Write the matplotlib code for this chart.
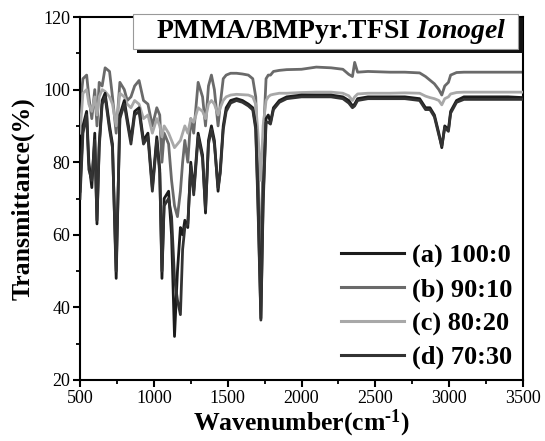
import matplotlib
matplotlib.use("Agg")
import matplotlib.pyplot as plt
from matplotlib.patches import Rectangle
from matplotlib.ticker import MultipleLocator

# Wavenumber grid (cm-1)
WAVENUMBER = [500, 520, 545, 560, 580, 600, 615, 630, 650, 670,
              700, 720, 745, 770, 800, 820, 845, 870, 900, 930,
              960, 990, 1020, 1040, 1055, 1070, 1100, 1120, 1140, 1160,
              1180, 1195, 1210, 1230, 1250, 1270, 1300, 1330, 1350, 1370,
              1390, 1410, 1435, 1450, 1470, 1490, 1520, 1560, 1600, 1640,
              1670, 1690, 1705, 1725, 1740, 1760, 1775, 1790, 1810, 1850,
              1900, 2000, 2100, 2200, 2280, 2320, 2345, 2360, 2380, 2450,
              2600, 2700, 2800, 2840, 2870, 2900, 2930, 2950, 2970, 2995,
              3010, 3050, 3100, 3200, 3300, 3400, 3500]

# (a) 100:0
T_A = [72, 90, 94, 80, 73, 88, 63, 85, 97, 99,
       90, 85, 48, 93, 97, 92, 86, 94, 95, 86,
       88, 73, 87, 78, 48, 70, 72, 60, 32, 50,
       62, 60, 64, 62, 80, 72, 88, 82, 66, 86,
       90, 86, 72, 78, 90, 95, 97, 97.5, 97, 96,
       95, 90, 70, 37, 70, 92, 93, 91, 95, 97,
       98, 98.5, 98.5, 98.5, 98, 97, 95.5, 96, 97.5, 98,
       98, 98, 97.5, 95, 95, 93, 88, 84, 90, 89,
       94, 97, 98, 98, 98, 98, 97.8]

# (b) 90:10
T_B = [95, 103, 104, 98, 92, 100, 90, 102, 101, 106,
       105, 98, 88, 102, 100, 97, 98, 101, 102.5, 97,
       96, 90, 95, 93, 80, 88, 85, 75, 68, 65,
       72, 80, 86, 80, 92, 88, 102, 98, 90, 101,
       104, 100, 90, 96, 103, 104, 104.5, 104.5, 104.3, 104,
       103, 98, 80, 45, 85, 103, 104, 104, 105, 105.3,
       105.5, 105.6, 106.2, 106, 105.6, 104.2, 103.6, 107.5, 104.8, 105,
       104.8, 104.8, 104.6, 103.6, 102.6, 101.6, 100, 98.5, 101, 102,
       104, 104.7, 104.8, 104.8, 104.8, 104.8, 104.8]

# (c) 80:20
T_C = [88, 99, 100, 96, 94, 98, 93, 98, 100, 99.5,
       98, 96, 90, 99, 98, 96, 95, 97, 96, 92,
       93, 88, 92, 90, 87, 90, 88, 86, 84, 85,
       86, 88, 90, 88, 92, 91, 95, 94, 92, 96,
       97, 96, 93, 95, 97, 98, 98.5, 98.7, 98.6, 98.5,
       98, 96, 88, 75, 90, 97, 98, 98.5, 98.7, 99,
       99, 99.2, 99.3, 99.3, 99, 98.3, 97, 98, 98.8, 99,
       99, 99.1, 99, 98.2, 97.8, 97.5, 97, 95.8, 97.5, 98,
       98.8, 99.2, 99.3, 99.3, 99.3, 99.3, 99.3]

# (d) 70:30
T_D = [70, 88, 93, 78, 75, 86, 64, 84, 96, 98,
       89, 84, 50, 92, 96, 91, 85, 93, 94, 85,
       87, 72, 86, 77, 50, 68, 70, 65, 48, 42,
       38, 56, 62, 63, 79, 71, 87, 81, 67, 85,
       89, 85, 73, 77, 89, 94, 96.3, 97, 96.5, 95.5,
       94.4, 89, 68, 36.5, 68, 91, 91, 90.5, 94.5, 96.5,
       97.5, 98, 98, 98, 97.5, 96.3, 95, 95.5, 97, 97.5,
       97.5, 97.5, 97, 94.5, 94.5, 92.5, 87.5, 84.5, 89.5, 88.5,
       93.5, 96.5, 97.3, 97.3, 97.3, 97.3, 97.3]

SERIES = [("(a) 100:0", T_A, "#1c1c1c"),
          ("(b) 90:10", T_B, "#6a6a6a"),
          ("(c) 80:20", T_C, "#a8a8a8"),
          ("(d) 70:30", T_D, "#333333")]

TITLE = "PMMA/BMPyr.TFSI $\\mathit{Ionogel}$"

plt.rcParams["font.family"] = "Liberation Serif"
plt.rcParams["mathtext.fontset"] = "custom"
plt.rcParams["mathtext.rm"] = "Liberation Serif:bold"
plt.rcParams["mathtext.it"] = "Liberation Serif:bold:italic"
plt.rcParams["mathtext.bf"] = "Liberation Serif:bold"

W, H = 545, 441
fig = plt.figure(figsize=(W / 100, H / 100), dpi=100)
ax = fig.add_axes([80 / W, 1 - 380 / H, 443 / W, 363 / H])

zorders = [4, 2, 3, 5]
for (label, vals, color), z in zip(SERIES, zorders):
    ax.plot(WAVENUMBER, vals, color=color, lw=2, label=label, zorder=z)

ax.set_xlim(500, 3500)
ax.set_ylim(20, 120)
ax.xaxis.set_major_locator(MultipleLocator(500))
ax.xaxis.set_minor_locator(MultipleLocator(250))
ax.yaxis.set_major_locator(MultipleLocator(20))
ax.yaxis.set_minor_locator(MultipleLocator(10))
ax.tick_params(which="major", direction="out", length=5, width=1.5, labelsize=13, pad=2)
ax.tick_params(which="minor", direction="out", length=3, width=1.3)
for sp in ax.spines.values():
    sp.set_linewidth(1.5)

ax.set_xlabel("Wavenumber(cm$^{\\text{-1}}$)", fontsize=18.5, fontweight="bold", labelpad=1)
ax.set_ylabel("Transmittance(%)", fontsize=18.5, fontweight="bold", labelpad=6)

leg = ax.legend(loc="lower right", frameon=False, prop={"weight": "bold", "size": 19},
                handlelength=2.4, handletextpad=0.3, labelspacing=0.38,
                borderaxespad=0.2, borderpad=0.2)
for line in leg.get_lines():
    line.set_linewidth(2.2)

# title box with drop shadow
fig.patches.append(Rectangle((137 / W, 1 - 53 / H), 386 / W, 35 / H,
                             transform=fig.transFigure, facecolor="#111111",
                             edgecolor="none", zorder=10))
fig.patches.append(Rectangle((133 / W, 1 - 49 / H), 385 / W, 35 / H,
                             transform=fig.transFigure, facecolor="white",
                             edgecolor="#999999", lw=0.8, zorder=11))
fig.text(331 / W, 1 - 32 / H, TITLE, ha="center", va="center",
         fontsize=20, fontweight="bold", zorder=12)

fig.savefig("out.png", dpi=100)
